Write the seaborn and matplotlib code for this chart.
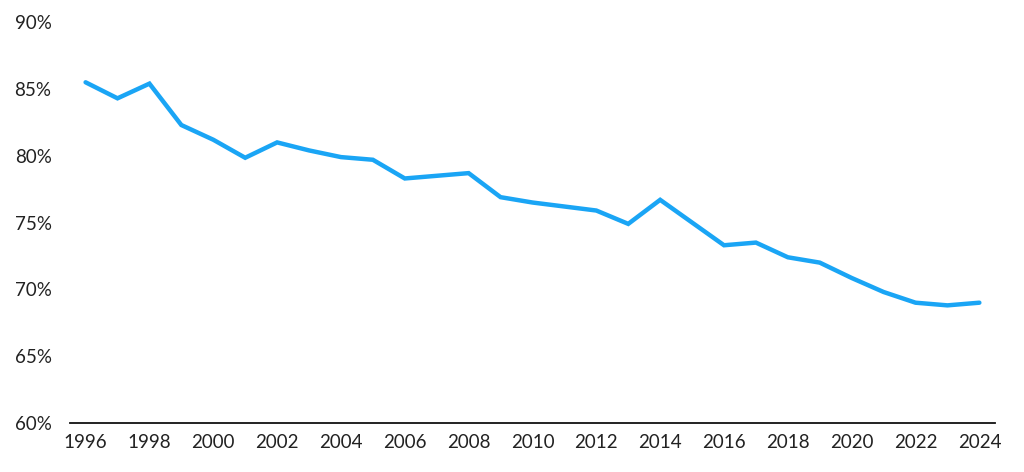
import numpy as np
import pandas as pd
import matplotlib
matplotlib.use("Agg")
import matplotlib.pyplot as plt
import seaborn as sns
from matplotlib.ticker import FuncFormatter

# data
years = list(range(1996, 2025))
share = [85.5, 84.3, 85.4, 82.3, 81.2, 79.85, 81.0, 80.4, 79.9, 79.7,
         78.3, 78.5, 78.7, 76.9, 76.5, 76.2, 75.9, 74.9, 76.7, 75.0,
         73.3, 73.5, 72.4, 72.0, 70.85, 69.8, 69.0, 68.8, 69.0]
x_ticks = list(range(1996, 2025, 2))
y_ticks = [60, 65, 70, 75, 80, 85, 90]

df = pd.DataFrame({"year": years, "share": share})

sns.set_style("white")
plt.rcParams['font.family'] = ['Lato', 'DejaVu Sans']

fig = plt.figure(figsize=(10.24, 4.72), dpi=100)
ax = fig.add_axes([0.068, 0.104, 0.904, 0.849])

sns.lineplot(data=df, x="year", y="share", ax=ax, color="#1aa5f5",
             linewidth=3.2, solid_joinstyle="miter")

ax.set_xlim(1995.5, 2024.5)
ax.set_ylim(60, 90)
ax.set_xticks(x_ticks)
ax.set_yticks(y_ticks)
ax.yaxis.set_major_formatter(FuncFormatter(lambda v, p: f"{int(v)}%"))
ax.tick_params(axis="both", length=0, labelsize=13.5, colors="#222222")
ax.tick_params(axis="y", pad=13)
ax.tick_params(axis="x", pad=8)
ax.set_xlabel("")
ax.set_ylabel("")
for s in ["top", "right", "left"]:
    ax.spines[s].set_visible(False)
ax.spines["bottom"].set_color("#111111")
ax.spines["bottom"].set_linewidth(1.3)
ax.grid(False)

fig.savefig("out.png", dpi=100)
